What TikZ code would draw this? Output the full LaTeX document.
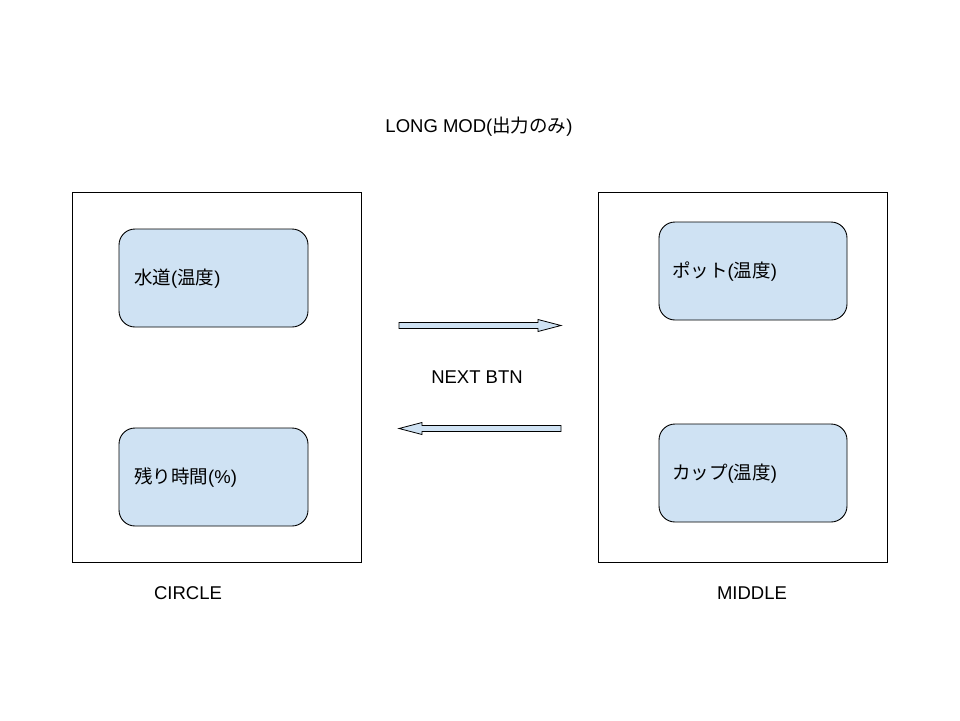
\documentclass[tikz,border=0pt]{standalone}
\usepackage{fontspec}
\setmainfont{Liberation Sans}
\newfontfamily\cjk{Noto Sans CJK JP}
\definecolor{boxblue}{HTML}{CFE2F3}
\begin{document}
\begin{tikzpicture}[x=1pt,y=-1pt,
  txt/.style={font=\fontsize{18.5}{21}\selectfont, inner sep=0pt},
  outerbox/.style={draw=black, line width=0.9pt},
  innerbox/.style={draw=black, line width=0.9pt, fill=boxblue, rounded corners=16pt},
  blockarrow/.style={draw=black, line width=0.8pt, fill=boxblue, line join=miter}]
\useasboundingbox[fill=white] (0,0) rectangle (960,720);
% outer frames
\draw[outerbox] (72,192) rectangle (361,562);
\draw[outerbox] (598,192) rectangle (887,562);
% inner boxes
\draw[innerbox] (119,229) rectangle (308,327);
\draw[innerbox] (119,428) rectangle (308,526);
\draw[innerbox] (659,222) rectangle (847,320);
\draw[innerbox] (659,424) rectangle (847,522);
% texts
\node[txt, anchor=west] (t1) at (134,279) {{\cjk 水道}({\cjk 温度})};
\node[txt, anchor=west] (t2) at (134,478) {{\cjk 残り時間}(\%)};
\node[txt, anchor=west] (t3) at (672,272) {{\cjk ポット}({\cjk 温度})};
\node[txt, anchor=west] (t4) at (672,474) {{\cjk カップ}({\cjk 温度})};
\node[txt] (title) at (479,127) {LONG MOD({\cjk 出力のみ})};
\node[txt] (next) at (477,377) {NEXT BTN};
\node[txt] (circle) at (188,593) {CIRCLE};
\node[txt] (middle) at (752,593) {MIDDLE};
% block arrows
\draw[blockarrow] (399,322.5) -- (538,322.5) -- (538,319.5) -- (561,325.5) -- (538,331.5) -- (538,328.5) -- (399,328.5) -- cycle;
\draw[blockarrow] (561,425.5) -- (422,425.5) -- (422,422.5) -- (399,428.5) -- (422,434.5) -- (422,431.5) -- (561,431.5) -- cycle;
\end{tikzpicture}
\end{document}
